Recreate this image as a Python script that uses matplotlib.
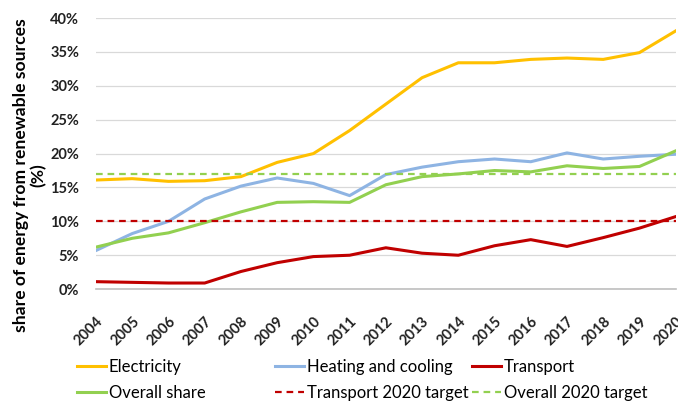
import matplotlib.pyplot as plt
from matplotlib.ticker import FuncFormatter

years = list(range(2004, 2021))
electricity = [16.1, 16.3, 15.9, 16.0, 16.6, 18.7, 20.0, 23.4, 27.3, 31.2, 33.4, 33.4, 33.9, 34.1, 33.9, 34.9, 38.1]
heating = [5.7, 8.2, 10.0, 13.3, 15.2, 16.4, 15.6, 13.8, 16.9, 18.0, 18.8, 19.2, 18.8, 20.1, 19.2, 19.6, 19.9]
transport = [1.1, 1.0, 0.9, 0.9, 2.6, 3.9, 4.8, 5.0, 6.1, 5.3, 5.0, 6.4, 7.3, 6.3, 7.6, 9.0, 10.7]
overall = [6.2, 7.5, 8.3, 9.8, 11.4, 12.8, 12.9, 12.8, 15.4, 16.6, 17.0, 17.5, 17.3, 18.2, 17.8, 18.1, 20.4]
transport_target = 10
overall_target = 17

plt.rcParams['font.family'] = ['Lato', 'DejaVu Sans']

fig = plt.figure(figsize=(6.78, 4.01), dpi=100)
ax = fig.add_axes([0.1416, 0.279, 0.855, 0.676])

x = list(range(len(years)))
h_el, = ax.plot(x, electricity, color='#FFC000', lw=2.2, label='Electricity')
h_he, = ax.plot(x, heating, color='#8EB4E3', lw=2.2, label='Heating and cooling')
h_tr, = ax.plot(x, transport, color='#C00000', lw=2.2, label='Transport')
h_ov, = ax.plot(x, overall, color='#92D050', lw=2.2, label='Overall share')
h_tt, = ax.plot(x, [transport_target] * len(x), color='#C00000', lw=1.6, ls=(0, (3, 2.2)),
                label='Transport 2020 target')
h_ot, = ax.plot(x, [overall_target] * len(x), color='#92D050', lw=1.6, ls=(0, (3, 2.2)),
                label='Overall 2020 target')

ax.set_xlim(0, len(x) - 1)
ax.set_ylim(0, 40)
ax.set_yticks(range(0, 41, 5))
ax.yaxis.set_major_formatter(FuncFormatter(lambda v, p: f'{int(v)}%'))
ax.set_xticks(x)
ax.set_xticklabels([str(y) for y in years], rotation=45, ha='right', rotation_mode='anchor',
                   fontsize=10.5, fontweight='bold')
for lab in ax.get_yticklabels():
    lab.set_fontsize(10.5)
    lab.set_fontweight('bold')
ax.tick_params(axis='both', length=0, colors='#222222')
ax.tick_params(axis='x', pad=18)
ax.tick_params(axis='y', pad=12)

ax.grid(axis='y', color='#D9D9D9', lw=0.9)
ax.set_axisbelow(True)
for s in ['left', 'right', 'top']:
    ax.spines[s].set_visible(False)
ax.spines['bottom'].set_color('#BFBFBF')
ax.spines['bottom'].set_linewidth(1.2)

ax.set_ylabel('share of energy from renewable sources\n(%)', fontsize=12.6, fontweight='bold',
              linespacing=1.1)
ax.yaxis.set_label_coords(-0.085, 0.42)

# legend: three columns placed like the original
cols = [([h_el, h_ov], 77), ([h_he, h_tt], 275), ([h_tr, h_ot], 472)]
for hs, px in cols:
    fig.legend(hs, [h.get_label() for h in hs], loc='upper left',
               bbox_to_anchor=(px / 678, 1 - 359 / 401), frameon=False,
               fontsize=12, handlelength=1.75, handletextpad=0.15,
               borderpad=0, borderaxespad=0, labelspacing=0.6)

fig.savefig('out.png', dpi=100)
